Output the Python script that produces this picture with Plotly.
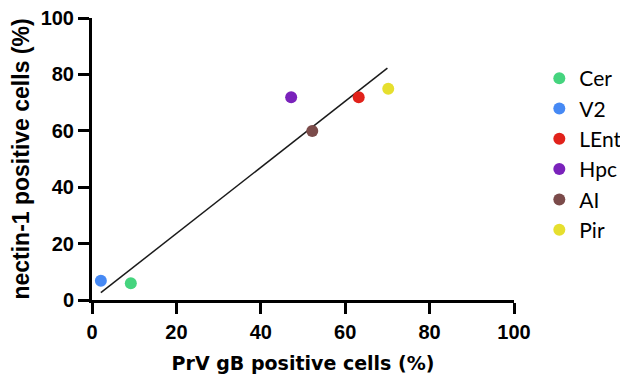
import plotly.graph_objects as go

regions = ["Cer", "V2", "LEnt", "Hpc", "AI", "Pir"]
prv_gb = [9.2, 2.1, 63.2, 47.2, 52.2, 70.2]
nectin1 = [5.9, 6.8, 71.9, 71.9, 59.9, 74.9]
colors = ["#45d47e", "#4689f4", "#e1221b", "#7a22bb", "#7b4b4a", "#e6df2e"]

fit_x = [2.1, 70.0]
fit_y = [2.6, 82.2]

x_ticks = [0, 20, 40, 60, 80, 100]
y_ticks = [0, 20, 40, 60, 80, 100]

fig = go.Figure()
fig.add_trace(go.Scatter(x=fit_x, y=fit_y, mode="lines",
                         line=dict(color="#1a1a1a", width=1.5),
                         showlegend=False, hoverinfo="skip"))
for name, xv, yv, c in zip(regions, prv_gb, nectin1, colors):
    fig.add_trace(go.Scatter(x=[xv], y=[yv], mode="markers", name=name,
                             legendgroup=name,
                             marker=dict(color=c, size=12, line=dict(width=0)),
                             cliponaxis=False))

tick_font = dict(family="Liberation Sans", size=20, color="black", weight=700)

axis_common = dict(
    range=[0, 100], showgrid=False, zeroline=False, showline=True,
    linecolor="black", linewidth=3, ticks="outside", ticklen=11,
    tickwidth=3, tickcolor="black", automargin=False,
    tickfont=tick_font, ticklabeloverflow="allow",
)

# page body adds an 8px offset; figure sized to fit inside the 628x378 window
fig.update_layout(
    width=620, height=370,
    margin=dict(l=84, r=114, t=10, b=78, autoexpand=False),
    paper_bgcolor="white", plot_bgcolor="white",
    xaxis=dict(**axis_common, tickvals=x_ticks, ticklabelstandoff=1,
               title=dict(text="PrV gB positive cells (%)", standoff=15,
                          font=dict(family="DejaVu Sans", size=19, color="black", weight=700))),
    yaxis=dict(**axis_common, tickvals=y_ticks, ticklabelstandoff=0,
               title=dict(text="nectin-1 positive cells (%)", standoff=10,
                          font=dict(family="Liberation Sans", size=23, color="black", weight=700))),
    legend=dict(x=1.06, y=0.858, xanchor="left", yanchor="top",
                font=dict(family="Lato", size=21, color="black"),
                tracegroupgap=0, itemwidth=30, bgcolor="rgba(0,0,0,0)"),
    showlegend=True,
)

fig.write_html("out.html")
